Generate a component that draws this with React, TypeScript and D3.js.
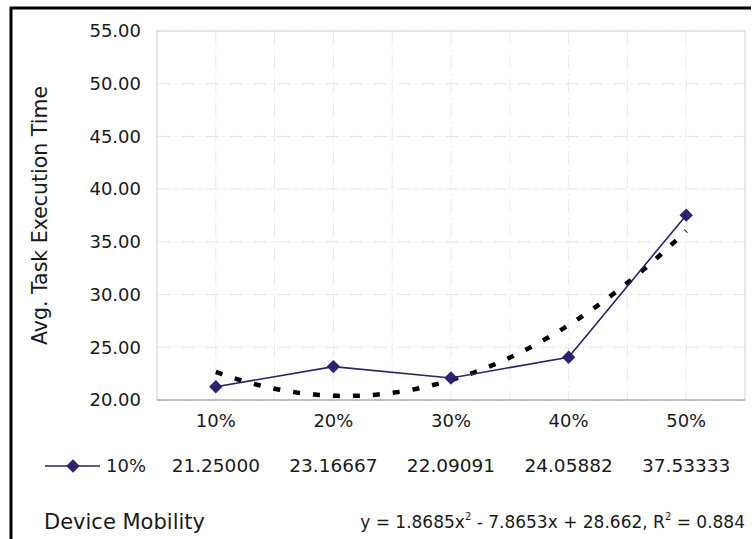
import React from "react";
import * as d3 from "d3";

const categories = ["10%", "20%", "30%", "40%", "50%"];
const seriesName = "10%";
const values = [21.25, 23.16667, 22.09091, 24.05882, 37.53333];
const valueLabels = ["21.25000", "23.16667", "22.09091", "24.05882", "37.53333"];
const yTicks = [20, 25, 30, 35, 40, 45, 50, 55];
// Quadratic trend coefficients (x = 1..n)
const trendCoef = [1.8685, -7.8653, 28.662];

const W = 753;
const H = 539;
const FONT = "'DejaVu Sans', 'Open Sans', sans-serif";
const NAVY = "#2b2270";
const INK = "#1a1a1a";

export default function App() {
  const left = 157, right = 745, top = 31, bottom = 400;
  const x = d3.scaleBand<string>().domain(categories).range([left, right]).padding(0);
  const cx = (c: string) => (x(c) as number) + x.bandwidth() / 2;
  const y = d3.scaleLinear().domain([20, 55]).range([bottom, top]);

  const line = d3.line<number>()
    .x((_, i) => cx(categories[i]))
    .y((v) => y(v));

  const trendPts: [number, number][] = d3.range(0, 101).map((k) => {
    const t = 1 + (k / 100) * (categories.length - 1);
    const v = trendCoef[0] * t * t + trendCoef[1] * t + trendCoef[2];
    const px = cx(categories[0]) + (t - 1) * x.bandwidth();
    return [px, y(v)];
  });
  const trendPath = d3.line()(trendPts) as string;

  const diamond = d3.symbol().type(d3.symbolDiamond2).size(115)() as string;

  const boundaries = categories.map((c) => x(c) as number).concat([right]);
  const centers = categories.map(cx);

  return (
    <svg width={W} height={H} style={{ position: "absolute", left: 0, top: 0, background: "#fff" }} fontFamily={FONT}>
      <rect x={0} y={0} width={W} height={H} fill="#fff" />
      {/* outer frame */}
      <line x1={11} y1={7} x2={11} y2={H} stroke="#000" strokeWidth={3} />
      <line x1={10} y1={8} x2={751} y2={8} stroke="#000" strokeWidth={3} />

      {/* gridlines */}
      {yTicks.map((t) => (
        <line key={"h" + t} x1={left} x2={right} y1={y(t)} y2={y(t)} stroke="#e6e6ea" strokeWidth={1} strokeDasharray="14 4 2 4" />
      ))}
      {[...boundaries.slice(1, -1), ...centers].map((px, i) => (
        <line key={"v" + i} x1={px} x2={px} y1={top} y2={bottom} stroke="#ebebee" strokeWidth={1} strokeDasharray="14 4 2 4" />
      ))}
      {/* plot area border */}
      <rect x={left} y={top} width={right - left} height={bottom - top} fill="none" stroke="#d0d0d8" strokeWidth={1} />
      <line x1={left} x2={right} y1={bottom} y2={bottom} stroke="#9a9ab4" strokeWidth={1.2} />

      {/* y tick labels */}
      {yTicks.map((t) => (
        <text key={"yl" + t} x={141} y={y(t)} dy="0.35em" textAnchor="end" fontSize={18} fill={INK}>
          {t.toFixed(2)}
        </text>
      ))}
      <text transform={`translate(47,${(top + bottom) / 2}) rotate(-90)`} textAnchor="middle" fontSize={20.5} fill={INK}>
        Avg. Task Execution Time
      </text>

      {/* x category labels */}
      {categories.map((c) => (
        <text key={"xl" + c} x={cx(c)} y={421} dy="0.35em" textAnchor="middle" fontSize={18} fill={INK}>
          {c}
        </text>
      ))}

      {/* trendline */}
      <path d={trendPath} fill="none" stroke="#000" strokeWidth={4.5} strokeDasharray="7 13" />

      {/* series */}
      <path d={line(values) as string} fill="none" stroke={NAVY} strokeWidth={1.6} />
      {values.map((v, i) => (
        <path key={"m" + i} d={diamond} transform={`translate(${cx(categories[i])},${y(v)})`} fill={NAVY} />
      ))}

      {/* data table row */}
      <line x1={45} x2={100} y1={466} y2={466} stroke={NAVY} strokeWidth={1.6} />
      <path d={diamond} transform="translate(73,466)" fill={NAVY} />
      <text x={106} y={466} dy="0.35em" fontSize={18} fill={INK}>{seriesName}</text>
      {valueLabels.map((s, i) => (
        <text key={"tv" + i} x={centers[i]} y={466} dy="0.35em" textAnchor="middle" fontSize={18.5} fill={INK}>
          {s}
        </text>
      ))}

      <text x={44} y={522} dy="0.35em" fontSize={21} fill={INK}>Device Mobility</text>
      <text x={745} y={522} dy="0.35em" textAnchor="end" fontSize={17} fill={INK}>
        <tspan>y = 1.8685x</tspan>
        <tspan fontSize={10} dy={-8}>2</tspan>
        <tspan dy={8}> - 7.8653x + 28.662, R</tspan>
        <tspan fontSize={10} dy={-8}>2</tspan>
        <tspan dy={8}> = 0.884</tspan>
      </text>
    </svg>
  );
}
